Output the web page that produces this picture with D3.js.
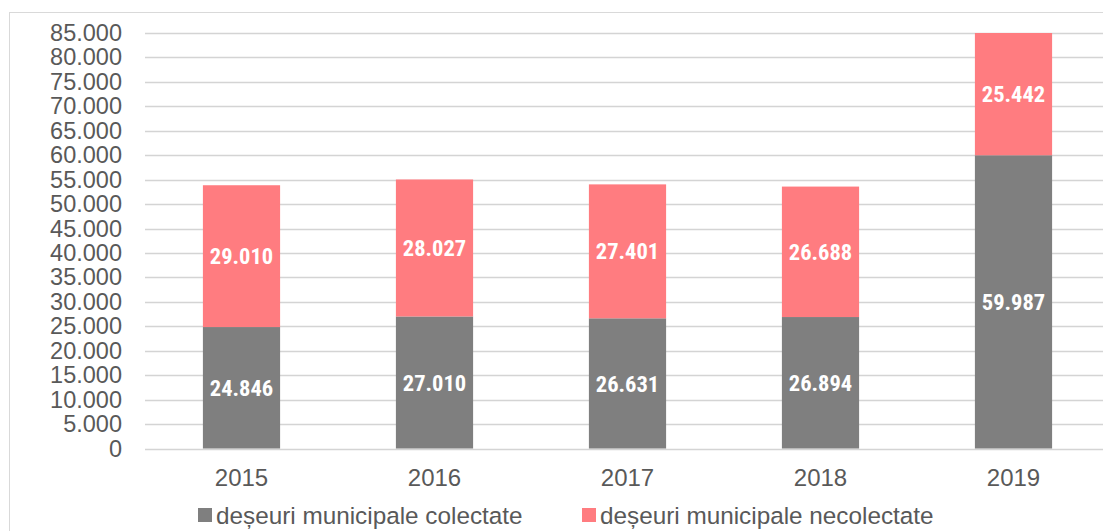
<!DOCTYPE html>
<html>
<head>
<meta charset="utf-8">
<script src="https://cdn.jsdelivr.net/npm/d3@7"></script>
<style>
  body { margin: 0; background: #fff; }
  svg { display: block; font-family: "Liberation Sans", Arial, sans-serif; }
</style>
</head>
<body>
<div id="chart"></div>
<script>
// values
var years = ["2015", "2016", "2017", "2018", "2019"];
var colectate = [24846, 27010, 26631, 26894, 59987];
var necolectate = [29010, 28027, 27401, 26688, 25442];
var seriesNames = ["deșeuri municipale colectate", "deșeuri municipale necolectate"];
var seriesColors = ["#7f7f7f", "#ff7c80"];
var yTicks = d3.range(0, 85001, 5000);

var width = 1103, height = 531;

var svg = d3.select("#chart").append("svg")
    .attr("width", width)
    .attr("height", height);

// outer chart border
svg.append("rect")
    .attr("x", 9.5).attr("y", 12.5)
    .attr("width", width + 20).attr("height", height + 20)
    .attr("fill", "none")
    .attr("stroke", "#d9d9d9");

var x = d3.scaleBand()
    .domain(years)
    .range([145, 1110])
    .paddingInner(0.6)
    .paddingOuter(0.3);

var y = d3.scaleLinear()
    .domain([0, 85000])
    .range([448.5, 33])
    .clamp(true);

var fmt = d3.formatLocale({decimal: ",", thousands: ".", grouping: [3], currency: ["", ""]}).format(",d");

// gridlines
svg.append("g")
    .selectAll("line")
    .data(yTicks)
    .enter().append("line")
    .attr("x1", 145).attr("x2", width)
    .attr("y1", d => Math.round(y(d)) + 0.5)
    .attr("y2", d => Math.round(y(d)) + 0.5)
    .attr("stroke", "#d4d4d4")
    .attr("stroke-width", 1.5);

// y axis labels
var yAxis = d3.axisLeft(y).tickValues(yTicks).tickFormat(fmt).tickSize(0).tickPadding(0);
var gy = svg.append("g")
    .attr("transform", "translate(122,0)")
    .call(yAxis);
gy.select(".domain").remove();
gy.selectAll("text")
    .attr("fill", "#595959")
    .style("font-size", "23.5px")
    .style("font-family", "'Liberation Sans', Arial, sans-serif");

// x axis labels
var xAxis = d3.axisBottom(x).tickSize(0).tickPadding(0);
var gx = svg.append("g")
    .attr("transform", "translate(0,469)")
    .call(xAxis);
gx.select(".domain").remove();
gx.selectAll("text")
    .attr("fill", "#595959")
    .style("font-size", "24px")
    .style("font-family", "'Liberation Sans', Arial, sans-serif");

// stacked data
var rows = years.map(function(yr, i) {
    return {year: yr, colectate: colectate[i], necolectate: necolectate[i]};
});
var stack = d3.stack().keys(["colectate", "necolectate"]);
var layers = stack(rows);

var groups = svg.append("g")
    .selectAll("g")
    .data(layers)
    .enter().append("g")
    .attr("fill", (d, i) => seriesColors[i]);

groups.selectAll("rect")
    .data(d => d)
    .enter().append("rect")
    .attr("x", d => x(d.data.year))
    .attr("width", x.bandwidth())
    .attr("y", d => y(d[1]))
    .attr("height", d => y(d[0]) - y(d[1]));

// value labels
groups.selectAll("text")
    .data(d => d)
    .enter().append("text")
    .attr("x", d => x(d.data.year) + x.bandwidth() / 2)
    .attr("y", d => (y(d[0]) + y(d[1])) / 2)
    .attr("dy", "0.36em")
    .attr("text-anchor", "middle")
    .attr("fill", "#fff")
    .style("font-family", "'Liberation Sans Narrow', 'Arial Narrow', 'Roboto Condensed', sans-serif")
    .style("font-weight", "bold")
    .style("font-size", "22.5px")
    .text(d => fmt(d[1] - d[0]));

// legend
var legendX = [198, 582];
var legend = svg.append("g")
    .selectAll("g")
    .data(seriesNames)
    .enter().append("g")
    .attr("transform", (d, i) => "translate(" + legendX[i] + ",508)");

legend.append("rect")
    .attr("width", 14).attr("height", 14)
    .attr("fill", (d, i) => seriesColors[i]);

legend.append("text")
    .attr("x", 18)
    .attr("y", 7)
    .attr("dy", "0.36em")
    .attr("fill", "#595959")
    .style("font-size", "24.3px")
    .text(d => d);
</script>
</body>
</html>
